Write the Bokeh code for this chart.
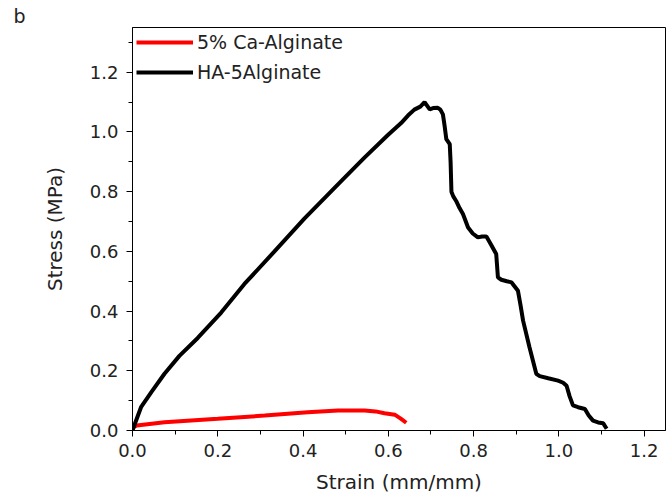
from bokeh.plotting import figure
from bokeh.models import SingleIntervalTicker, Legend, LegendItem, Range1d, NumeralTickFormatter
from bokeh.embed import file_html
from bokeh.resources import INLINE

# Data
strain_ca = [0.003, 0.01, 0.075, 0.2, 0.31, 0.411, 0.482, 0.544, 0.57, 0.591, 0.615, 0.630, 0.642]
stress_ca = [0.012, 0.017, 0.028, 0.039, 0.050, 0.061, 0.067, 0.067, 0.064, 0.058, 0.053, 0.039, 0.026]

strain_ha = [0.0, 0.005, 0.02, 0.045, 0.075, 0.11, 0.153, 0.208, 0.262, 0.333, 0.403, 0.49, 0.544,
             0.599, 0.630, 0.646, 0.661, 0.675, 0.685, 0.690, 0.697, 0.705, 0.716, 0.722, 0.728,
             0.732, 0.736, 0.744, 0.746, 0.748, 0.752, 0.759, 0.767, 0.775, 0.787, 0.798, 0.810,
             0.820, 0.830, 0.840, 0.853, 0.857, 0.865, 0.878, 0.889, 0.904, 0.910, 0.916, 0.931,
             0.947, 0.955, 0.975, 0.998, 1.010, 1.018, 1.025, 1.033, 1.045, 1.061, 1.070, 1.080,
             1.092, 1.104, 1.112]
stress_ha = [0.0, 0.02, 0.078, 0.13, 0.19, 0.25, 0.31, 0.395, 0.49, 0.60, 0.71, 0.836, 0.914,
             0.99, 1.03, 1.055, 1.075, 1.085, 1.10, 1.09, 1.076, 1.08, 1.081, 1.075, 1.059,
             1.02, 0.976, 0.959, 0.90, 0.80, 0.785, 0.769, 0.745, 0.725, 0.68, 0.66, 0.647,
             0.650, 0.650, 0.625, 0.591, 0.513, 0.505, 0.500, 0.496, 0.468, 0.42, 0.368, 0.279,
             0.19, 0.182, 0.175, 0.167, 0.160, 0.150, 0.115, 0.084, 0.078, 0.072, 0.05, 0.033,
             0.027, 0.024, 0.006]

series_labels = ["5% Ca-Alginate", "HA-5Alginate"]
x_title = "Strain (mm/mm)"
y_title = "Stress (MPa)"
panel_tag = "b"

FONT = "DejaVu Sans"

p = figure(width=668, height=500, output_backend="svg", toolbar_location=None,
           x_range=Range1d(0, 1.25), y_range=Range1d(0, 1.35),
           min_border_left=132, min_border_right=3, min_border_top=27, min_border_bottom=70)
p.background_fill_color = "white"
p.border_fill_color = "white"
p.outline_line_color = "black"
p.outline_line_width = 1
p.grid.visible = False

p.title.text = panel_tag
p.title.align = "left"
p.title.offset = -119
p.title.standoff = 1
p.title.text_font = FONT
p.title.text_font_size = "19px"
p.title.text_font_style = "normal"
p.title.text_color = "#222222"

r_ca = p.line(strain_ca, stress_ca, line_color="#ff0000", line_width=4)
r_ha = p.line(strain_ha, stress_ha, line_color="black", line_width=4)

for ax in (p.xaxis[0], p.yaxis[0]):
    ax.ticker = SingleIntervalTicker(interval=0.2, num_minor_ticks=2)
    ax.formatter = NumeralTickFormatter(format="0.0")
    ax.major_tick_in = 0
    ax.major_tick_out = 6
    ax.minor_tick_in = 0
    ax.minor_tick_out = 4
    ax.axis_line_color = "black"
    ax.major_tick_line_color = "black"
    ax.minor_tick_line_color = "black"
    ax.major_label_text_font = FONT
    ax.major_label_text_font_size = "18px"
    ax.major_label_text_color = "#222222"
    ax.axis_label_text_font = FONT
    ax.axis_label_text_font_size = "20px"
    ax.axis_label_text_font_style = "normal"
    ax.axis_label_text_color = "#222222"

p.xaxis[0].axis_label = x_title
p.xaxis[0].major_label_standoff = 7
p.xaxis[0].axis_label_standoff = 10
p.yaxis[0].axis_label = y_title
p.yaxis[0].major_label_standoff = 8
p.yaxis[0].axis_label_standoff = 20

legend = Legend(items=[LegendItem(label=series_labels[0], renderers=[r_ca]),
                       LegendItem(label=series_labels[1], renderers=[r_ha])],
                location="top_left")
legend.border_line_color = None
legend.background_fill_alpha = 0
legend.margin = 4
legend.padding = 4
legend.spacing = 8
legend.glyph_width = 57
legend.glyph_height = 20
legend.label_height = 20
legend.label_standoff = 4
legend.label_text_font = FONT
legend.label_text_font_size = "19px"
legend.label_text_color = "#222222"
p.add_layout(legend)

open("out.html", "w").write(file_html(p, INLINE))
